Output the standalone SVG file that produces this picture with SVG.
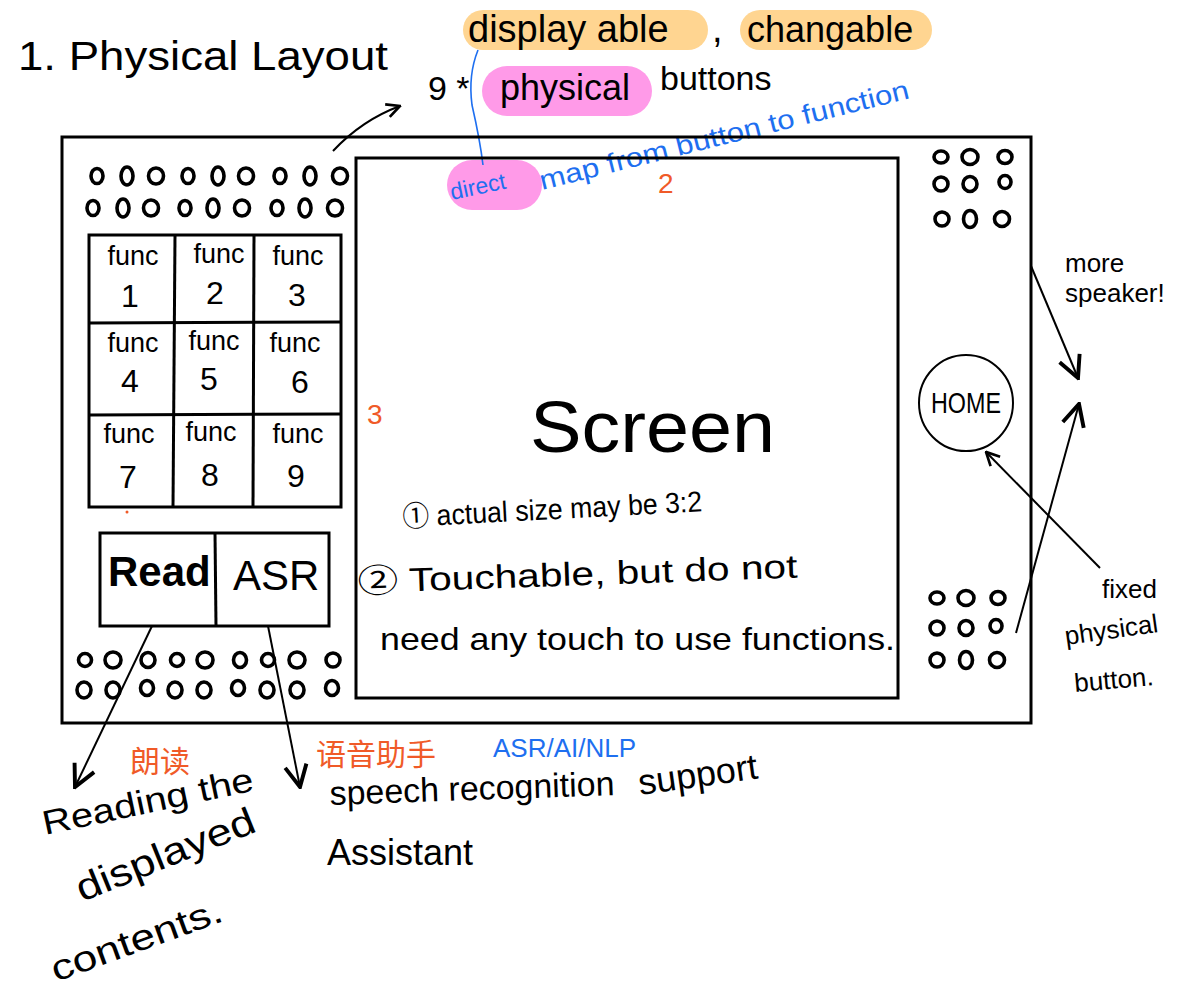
<svg xmlns="http://www.w3.org/2000/svg" width="1196" height="995" viewBox="0 0 1196 995">
<defs>
<style>
.k{font-family:"Liberation Sans","Noto Sans CJK SC",sans-serif;fill:#000}
.b{fill:#1E6FF0}
.o{fill:#F05A28}
.box{fill:none;stroke:#000;stroke-width:3}
.dot{fill:none;stroke:#000;stroke-width:3.6}
.ln{fill:none;stroke:#000;stroke-width:2}
.fn{font-size:27px;text-anchor:middle}
.nm{font-size:32px;text-anchor:middle}
</style>
<marker id="v" viewBox="0 0 12 12" refX="11" refY="6" markerWidth="16" markerHeight="16" markerUnits="userSpaceOnUse" orient="auto">
<path d="M1,1 L11,6 L1,11" fill="none" stroke="#000" stroke-width="2"/>
</marker>
<marker id="vb" viewBox="0 0 12 12" refX="11" refY="6" markerWidth="26" markerHeight="26" markerUnits="userSpaceOnUse" orient="auto">
<path d="M1,1 L11,6 L1,11" fill="none" stroke="#000" stroke-width="1.8"/>
</marker>
</defs>
<rect width="1196" height="995" fill="#fff"/>

<g id="title"><text class="k" x="18" y="70" font-size="40" textLength="370" lengthAdjust="spacingAndGlyphs">1. Physical Layout</text></g>

<g id="highlights">
<rect x="463" y="10" width="245" height="40" rx="20" fill="#FFD591"/>
<rect x="740" y="10" width="192" height="40" rx="20" fill="#FFD591"/>
<rect x="482" y="66" width="170" height="50" rx="25" fill="#FF9AE8"/>
<rect x="447" y="160" width="95" height="50" rx="25" fill="#FF9AE8"/>
</g>

<g id="notes-top">
<text class="k" x="468" y="42" font-size="38">display able</text>
<text class="k" x="712" y="42" font-size="38">,</text>
<text class="k" x="747" y="42" font-size="36">changable</text>
<text class="k" x="428" y="100" font-size="34">9 *</text>
<text class="k" x="500" y="100" font-size="36">physical</text>
<text class="k" x="660" y="90" font-size="34">buttons</text>
<path d="M478,50 Q468,75 472,105 Q480,140 483,165" fill="none" stroke="#1E6FF0" stroke-width="1.6"/>
<text class="k b" x="452" y="200" font-size="23" transform="rotate(-12 452 200)">direct</text>
<text class="k b" x="542" y="190" font-size="27" transform="rotate(-14 542 190)" textLength="380" lengthAdjust="spacingAndGlyphs">map from  button to function</text>
<text class="k o" x="658" y="193" font-size="28">2</text>
<text class="k o" x="367" y="424" font-size="28">3</text>
<circle cx="127" cy="512" r="1.5" fill="#F05A28"/>
</g>

<g id="device">
<rect class="box" x="62" y="137" width="969" height="586"/>
</g>

<g id="screen">
<rect class="box" x="356" y="158" width="542" height="540"/>
<text class="k" x="530" y="452" font-size="72" textLength="245" lengthAdjust="spacingAndGlyphs">Screen</text>
<text class="k" x="403" y="527" font-size="29" transform="rotate(-3 403 527)" textLength="300" lengthAdjust="spacingAndGlyphs">① actual size may be 3:2</text>
<text class="k" x="358" y="593" font-size="33" transform="rotate(-2 358 593)" textLength="440" lengthAdjust="spacingAndGlyphs">② Touchable, but do not</text>
<text class="k" x="380" y="650" font-size="32" textLength="515" lengthAdjust="spacingAndGlyphs">need any touch to use functions.</text>
</g>

<g id="speaker-top-left">
<ellipse class="dot" cx="97" cy="176" rx="6" ry="7.5"/><ellipse class="dot" cx="127" cy="176" rx="6" ry="9"/><ellipse class="dot" cx="156" cy="176" rx="7.5" ry="8"/><ellipse class="dot" cx="188" cy="176" rx="6" ry="7.5"/><ellipse class="dot" cx="218" cy="176" rx="6" ry="9"/><ellipse class="dot" cx="246" cy="176" rx="7.5" ry="8"/><ellipse class="dot" cx="280" cy="176" rx="6" ry="7.5"/><ellipse class="dot" cx="310" cy="176" rx="6" ry="9"/><ellipse class="dot" cx="340" cy="176" rx="7.5" ry="8"/>
<ellipse class="dot" cx="93" cy="208" rx="6" ry="7.5"/><ellipse class="dot" cx="123" cy="208" rx="6" ry="9"/><ellipse class="dot" cx="151" cy="208" rx="7.5" ry="8"/><ellipse class="dot" cx="185" cy="208" rx="6" ry="7.5"/><ellipse class="dot" cx="213" cy="208" rx="6" ry="9"/><ellipse class="dot" cx="242" cy="208" rx="7.5" ry="8"/><ellipse class="dot" cx="277" cy="208" rx="6" ry="7.5"/><ellipse class="dot" cx="305" cy="208" rx="6" ry="9"/><ellipse class="dot" cx="335" cy="208" rx="7.5" ry="8"/>
</g>

<g id="func-grid">
<rect class="box" x="89" y="235" width="252" height="272"/>
<line class="box" x1="175" y1="235" x2="173" y2="507"/>
<line class="box" x1="254" y1="235" x2="253" y2="507"/>
<line class="box" x1="89" y1="323" x2="341" y2="322"/>
<line class="box" x1="89" y1="415" x2="341" y2="414"/>
<text class="k fn" x="133" y="265">func</text><text class="k nm" x="130" y="307">1</text>
<text class="k fn" x="219" y="263">func</text><text class="k nm" x="215" y="304">2</text>
<text class="k fn" x="298" y="265">func</text><text class="k nm" x="297" y="306">3</text>
<text class="k fn" x="133" y="352">func</text><text class="k nm" x="130" y="392">4</text>
<text class="k fn" x="214" y="350">func</text><text class="k nm" x="209" y="390">5</text>
<text class="k fn" x="295" y="352">func</text><text class="k nm" x="300" y="393">6</text>
<text class="k fn" x="129" y="443">func</text><text class="k nm" x="128" y="488">7</text>
<text class="k fn" x="211" y="441">func</text><text class="k nm" x="210" y="486">8</text>
<text class="k fn" x="298" y="443">func</text><text class="k nm" x="296" y="487">9</text>
</g>

<g id="read-asr">
<rect class="box" x="100" y="533" width="229" height="93"/>
<line class="box" x1="215" y1="533" x2="216" y2="626"/>
<text class="k" x="108" y="586" font-size="42" font-weight="bold">Read</text>
<text class="k" x="233" y="590" font-size="42">ASR</text>
</g>

<g id="speaker-bottom-left">
<ellipse class="dot" cx="85" cy="660" rx="6.5" ry="6.5"/><ellipse class="dot" cx="113" cy="660" rx="8" ry="8"/><ellipse class="dot" cx="148" cy="660" rx="7" ry="7.5"/><ellipse class="dot" cx="177" cy="660" rx="6.5" ry="6.5"/><ellipse class="dot" cx="205" cy="660" rx="8" ry="8"/><ellipse class="dot" cx="240" cy="660" rx="6.5" ry="7.5"/><ellipse class="dot" cx="268" cy="660" rx="6.5" ry="6.5"/><ellipse class="dot" cx="297" cy="660" rx="8" ry="8"/><ellipse class="dot" cx="333" cy="660" rx="7" ry="7"/>
<ellipse class="dot" cx="84" cy="690" rx="7" ry="8"/><ellipse class="dot" cx="113" cy="690" rx="7" ry="8"/><ellipse class="dot" cx="147" cy="688" rx="6.5" ry="7.5"/><ellipse class="dot" cx="175" cy="690" rx="7" ry="8"/><ellipse class="dot" cx="204" cy="690" rx="7" ry="8"/><ellipse class="dot" cx="238" cy="688" rx="6.5" ry="7.5"/><ellipse class="dot" cx="267" cy="690" rx="7" ry="8"/><ellipse class="dot" cx="297" cy="690" rx="7" ry="8"/><ellipse class="dot" cx="332" cy="688" rx="6.5" ry="7.5"/>
</g>

<g id="speaker-top-right">
<ellipse class="dot" cx="941" cy="157" rx="7" ry="6"/><ellipse class="dot" cx="970" cy="157" rx="8" ry="7.5"/><ellipse class="dot" cx="1005" cy="157" rx="7" ry="6.5"/>
<ellipse class="dot" cx="941" cy="184" rx="7" ry="7"/><ellipse class="dot" cx="970" cy="184" rx="7" ry="7.5"/><ellipse class="dot" cx="1005" cy="182" rx="6" ry="6.5"/>
<ellipse class="dot" cx="942" cy="219" rx="7" ry="7"/><ellipse class="dot" cx="970" cy="219" rx="6.5" ry="8.5"/><ellipse class="dot" cx="1002" cy="219" rx="7.5" ry="7.5"/>
</g>

<g id="home">
<ellipse cx="966" cy="403" rx="47" ry="48" fill="none" stroke="#000" stroke-width="2"/>
<text class="k" x="966" y="413" font-size="30" text-anchor="middle" textLength="70" lengthAdjust="spacingAndGlyphs">HOME</text>
</g>

<g id="speaker-bottom-right">
<ellipse class="dot" cx="937" cy="598" rx="7" ry="6"/><ellipse class="dot" cx="966" cy="598" rx="8" ry="7.5"/><ellipse class="dot" cx="998" cy="598" rx="7" ry="6.5"/>
<ellipse class="dot" cx="937" cy="628" rx="7" ry="7"/><ellipse class="dot" cx="966" cy="628" rx="7" ry="7.5"/><ellipse class="dot" cx="996" cy="626" rx="6" ry="6.5"/>
<ellipse class="dot" cx="937" cy="660" rx="7" ry="7"/><ellipse class="dot" cx="966" cy="660" rx="6.5" ry="8.5"/><ellipse class="dot" cx="997" cy="660" rx="7.5" ry="7.5"/>
</g>

<g id="side-notes">
<text class="k" x="1065" y="272" font-size="26">more</text>
<text class="k" x="1065" y="302" font-size="26">speaker!</text>
<text class="k" x="1102" y="598" font-size="26">fixed</text>
<text class="k" x="1066" y="645" font-size="26" transform="rotate(-8 1066 645)">physical</text>
<text class="k" x="1075" y="692" font-size="26" transform="rotate(-5 1075 692)">button.</text>
</g>

<g id="bottom-notes">
<text class="k o" x="130" y="772" font-size="30">朗读</text>
<text class="k o" x="316" y="765" font-size="30">语音助手</text>
<text class="k b" x="493" y="757" font-size="26">ASR/AI/NLP</text>
<text class="k" x="45" y="835" font-size="34" transform="rotate(-12 45 835)" textLength="215" lengthAdjust="spacingAndGlyphs">Reading the</text>
<text class="k" x="82" y="902" font-size="38" transform="rotate(-22 82 902)" textLength="190" lengthAdjust="spacingAndGlyphs">displayed</text>
<text class="k" x="56" y="982" font-size="36" transform="rotate(-20 56 982)" textLength="180" lengthAdjust="spacingAndGlyphs">contents.</text>
<text class="k" x="330" y="805" font-size="34" transform="rotate(-2 330 805)" textLength="285" lengthAdjust="spacingAndGlyphs">speech recognition</text>
<text class="k" x="640" y="795" font-size="36" transform="rotate(-8 640 795)">support</text>
<text class="k" x="327" y="865" font-size="36">Assistant</text>
</g>

<g id="connectors">
<path class="ln" d="M333,151 Q362,120 400,106" marker-end="url(#v)"/>
<line class="ln" x1="152" y1="626" x2="75" y2="787" marker-end="url(#vb)"/>
<line class="ln" x1="268" y1="626" x2="300" y2="787" marker-end="url(#vb)"/>
<line class="ln" x1="1031" y1="266" x2="1078" y2="378" stroke-width="2.5" marker-end="url(#vb)"/>
<line class="ln" x1="1016" y1="633" x2="1079" y2="404" stroke-width="2.5" marker-end="url(#vb)"/>
<line class="ln" x1="1100" y1="568" x2="986" y2="452" marker-end="url(#v)"/>
</g>
</svg>
